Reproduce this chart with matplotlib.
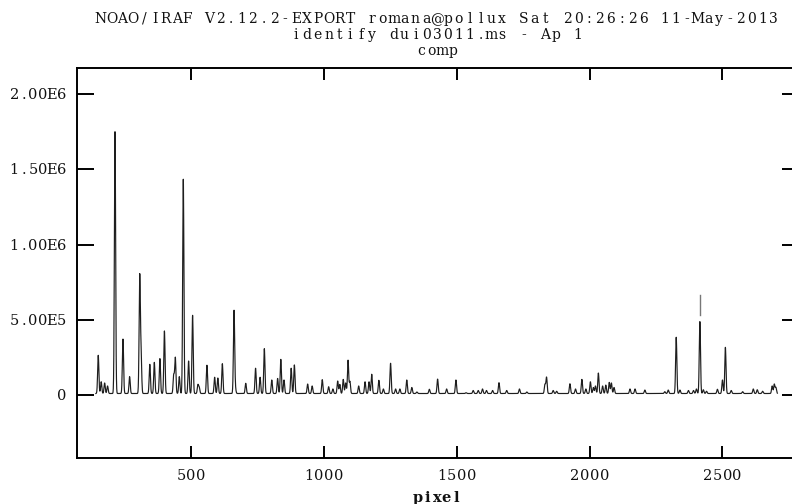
import numpy as np
import matplotlib
matplotlib.use("Agg")
import matplotlib.pyplot as plt

# --- emission-line list of the comparison lamp (pixel centre, peak counts) ---
line_pixel = [151, 162, 175, 186, 214, 244, 269, 307, 312, 345, 362, 383, 400,
              435, 441, 456, 471, 491, 506, 526, 531, 560, 589, 601, 618, 662,
              667, 706, 743, 760, 776, 804, 826, 838, 850, 877, 889,
              939, 956, 994, 1018, 1034, 1052, 1060, 1073, 1082, 1091, 1098,
              1131, 1155, 1170, 1180, 1207, 1224, 1251, 1270, 1286, 1312, 1331,
              1350, 1397, 1428, 1462, 1497, 1535, 1562, 1581, 1597, 1612, 1635,
              1659, 1688, 1736, 1764, 1832, 1838, 1863, 1876, 1926, 1947, 1971,
              1986, 2003, 2014, 2022, 2033, 2049, 2061, 2074, 2082, 2092, 2152,
              2171, 2208, 2283, 2296, 2326, 2340, 2372, 2391, 2402, 2415, 2428,
              2440, 2481, 2500, 2511, 2533, 2576, 2616, 2631, 2651, 2687, 2695,
              2701]
line_peak = [2.64e5, 8.8e4, 8.0e4, 6.0e4, 1.751e6, 3.72e5, 1.22e5, 7.83e5, 2.70e5,
             2.04e5, 2.17e5, 2.42e5, 4.26e5, 1.33e5, 2.48e5, 1.22e5, 1.435e6,
             2.26e5, 5.30e5, 6.7e4, 5.0e4, 1.98e5, 1.18e5, 1.13e5, 2.08e5, 5.61e5,
             4.0e4, 7.8e4, 1.78e5, 1.18e5, 3.08e5, 1.00e5, 1.10e5, 2.37e5, 1.00e5,
             1.78e5, 2.00e5,
             7.3e4, 6.0e4, 1.02e5, 5.5e4, 4.0e4, 9.3e4, 7.0e4, 1.04e5, 8.0e4,
             2.31e5, 9.0e4, 6.0e4, 8.8e4, 8.8e4, 1.38e5, 9.8e4, 4.0e4, 2.11e5,
             4.0e4, 4.0e4, 1.00e5, 5.0e4, 2.0e4, 3.8e4, 1.06e5, 4.0e4, 1.00e5,
             1.5e4, 3.0e4, 3.0e4, 4.0e4, 3.0e4, 3.0e4, 8.2e4, 3.0e4, 4.0e4, 2.0e4,
             7.0e4, 1.18e5, 3.0e4, 2.5e4, 7.5e4, 4.0e4, 1.04e5, 4.0e4, 8.8e4,
             5.0e4, 6.0e4, 1.46e5, 6.0e4, 6.6e4, 8.4e4, 8.0e4, 5.0e4, 4.0e4,
             4.0e4, 3.3e4, 2.2e4, 3.3e4, 3.84e5, 3.3e4, 3.0e4, 3.0e4, 4.0e4,
             4.88e5, 3.5e4, 2.5e4, 3.8e4, 1.00e5, 3.17e5, 3.0e4, 2.2e4, 4.0e4,
             3.5e4, 2.5e4, 6.0e4, 7.2e4, 5.0e4]
continuum = 1.0e4
first_pixel, last_pixel = 142, 2706
line_width = 2.3          # gaussian sigma of the lines, in pixels

# identified features marked above the spectrum
identified = [2415]

xticks = [500, 1000, 1500, 2000, 2500]
xtick_labels = ["500", "1000", "1500", "2000", "2500"]
yticks = [0, 5e5, 1e6, 1.5e6, 2e6]
ytick_labels = ["0", "5.00E5", "1.00E6", "1.50E6", "2.00E6"]

title_lines = ["NOAO/IRAF V2.12.2-EXPORT romana@pollux Sat 20:26:26 11-May-2013",
               "identify dui03011.ms - Ap 1",
               "comp"]
xlabel = "pixel"

# --- build the extracted spectrum from the line list ---
pix = np.arange(first_pixel, last_pixel + 1, 0.5)
flux = np.full_like(pix, continuum, dtype=float)
for c, h in zip(line_pixel, line_peak):
    flux += (h - continuum) * np.exp(-0.5 * ((pix - c) / line_width) ** 2)

W, H = 792, 504
fig = plt.figure(figsize=(W / 100, H / 100), dpi=100)
fig.patch.set_facecolor("white")
ax = fig.add_axes([77 / W, 1 - 458 / H, 722 / W, 390 / H])

ax.plot(pix, flux, color="#1e1e1e", lw=0.85)

# identification tick above each marked feature
for p in identified:
    peak = np.interp(p, pix, flux)
    ax.plot([p, p], [peak + 0.45e5, peak + 1.75e5], color="#777777", lw=1.0)

ax.set_xlim(71, 2788)
ax.set_ylim(-0.419e6, 2.175e6)

ax.set_xticks(xticks)
ax.set_yticks(yticks)
ax.set_xticklabels([])
ax.set_yticklabels([])
ax.tick_params(axis="x", direction="in", length=8.6, width=1.4, top=True, bottom=True,
               color="black")
ax.tick_params(axis="y", direction="in", length=12.2, width=1.4, left=True, right=True,
               color="black")
for s in ax.spines.values():
    s.set_linewidth(1.4)
    s.set_color("black")

FONT = "DejaVu Serif"


def spaced_text(s, x, y_base, pitch, size, align="center", weight="normal"):
    """Draw a string with fixed character pitch (pixel coordinates, y downward)."""
    n = len(s)
    if align == "center":
        x0 = x - pitch * (n - 1) / 2
    else:  # right aligned: last cell ends at x
        x0 = x - pitch * (n - 1) - pitch / 2
    for i, ch in enumerate(s):
        if ch == " ":
            continue
        fig.text((x0 + i * pitch) / W, 1 - y_base / H, ch, ha="center",
                 va="baseline", fontsize=size, family=FONT, weight=weight,
                 color="#111111")


# tick labels
for v, lab in zip(xticks, xtick_labels):
    px = ax.transData.transform((v, 0))[0]
    spaced_text(lab, px, 480, 9.8, 10.5)
for v, lab in zip(yticks, ytick_labels):
    py = H - ax.transData.transform((0, v))[1]
    spaced_text(lab, 66, py + 5, 9.4, 10.5, align="right")

# axis label and title block
spaced_text(xlabel, 437, 502, 9.4, 10.5, weight="bold")
title_base = [23, 39, 55]
for line, yb in zip(title_lines, title_base):
    spaced_text(line, 437, yb, 10.85, 10)

fig.savefig("out.png", dpi=100, facecolor="white")
